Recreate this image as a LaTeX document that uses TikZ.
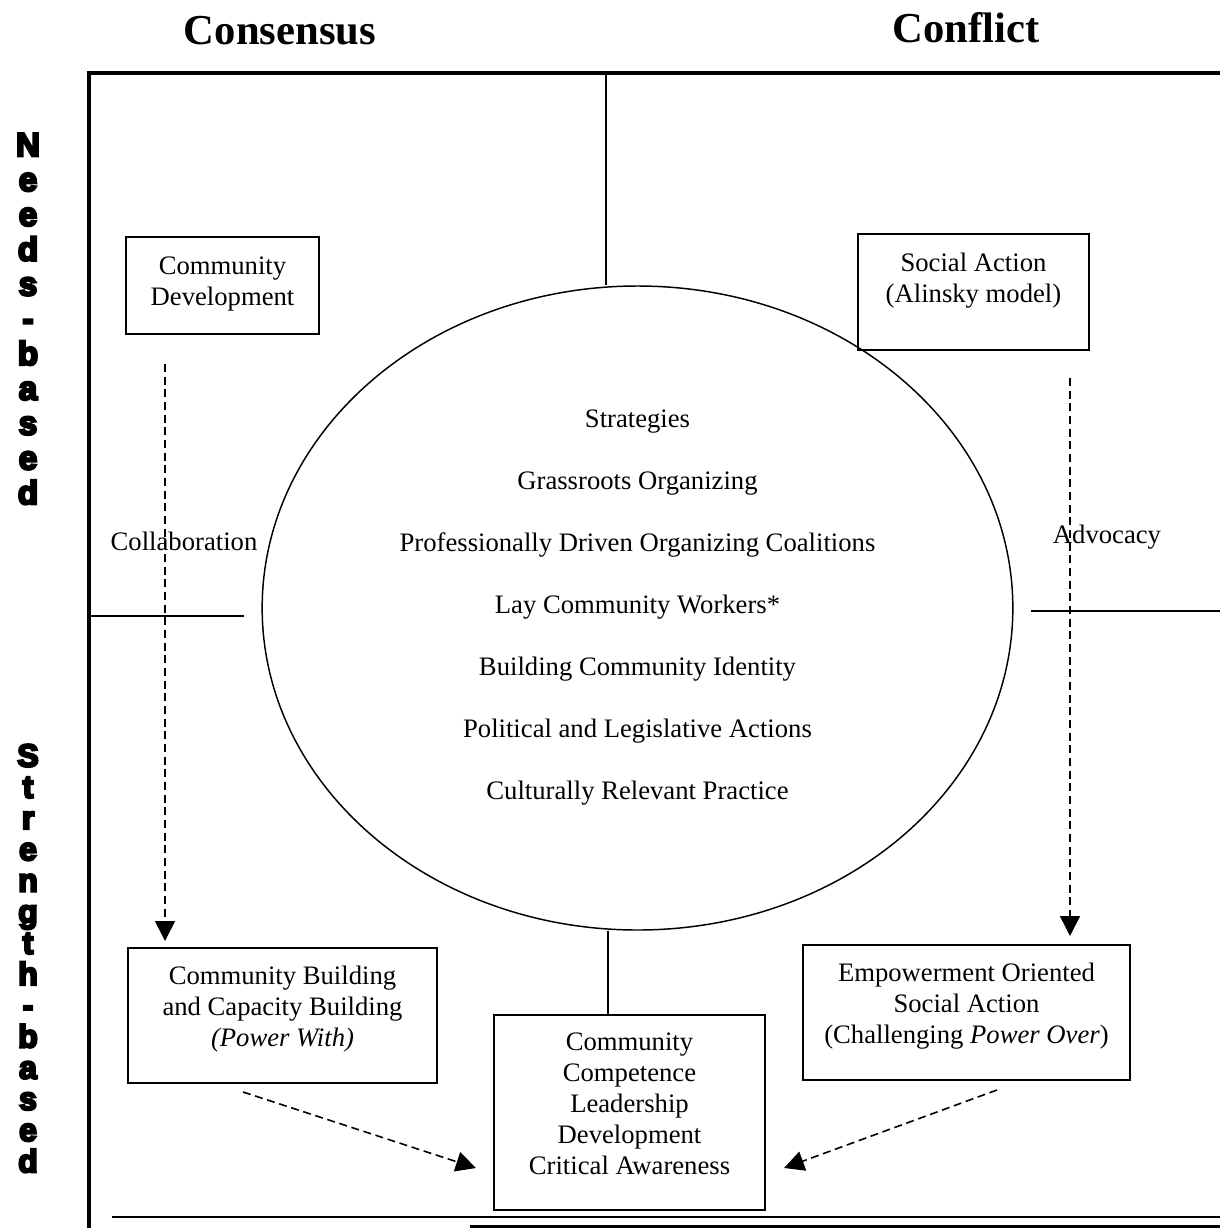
\documentclass[tikz,border=0pt]{standalone}
\usepackage{fontspec}
\setmainfont{Liberation Serif}
\newfontfamily\heavyfont{Liberation Sans Bold}[FakeBold=7]
\usetikzlibrary{shapes.geometric,arrows.meta}

\tikzset{
  frameline/.style={line width=3pt},
  thinline/.style={line width=1.1pt},
  stratbox/.style={draw, line width=1.1pt, rectangle, inner sep=0pt, align=center,
    font=\fontsize{20}{23.3}\selectfont},
  flowarrow/.style={line width=1.2pt, dash pattern=on 6pt off 3.5pt,
    -{Triangle[width=15pt,length=15pt]}},
  heading/.style={font=\fontsize{32}{36}\selectfont\bfseries},
  sidelabel/.style={font=\fontsize{20}{23}\selectfont},
  stack/.style={anchor=north, align=center, inner sep=0pt},
}

\begin{document}
\begin{tikzpicture}[x=0.75pt,y=-0.75pt]
\useasboundingbox (0,0) rectangle (1220,1228);

% column headings
\node[heading] (hcons) at (280,31) {Consensus};
\node[heading] (hconf) at (966,28) {Conflict};

% row headings, stacked letters
\node[stack, font=\heavyfont\fontsize{25}{26.1}\selectfont] (hneeds) at (28,133)
  {N\\e\\e\\d\\s\\-\\b\\a\\s\\e\\d};
\node[stack, font=\heavyfont\fontsize{24}{23.4}\selectfont] (hstrength) at (28,744)
  {S\\t\\r\\e\\n\\g\\t\\h\\-\\b\\a\\s\\e\\d};

% outer frame
\coordinate (fbl) at (89,1228);
\coordinate (ftl) at (89,73);
\coordinate (ftr) at (1220,73);
\draw[frameline] (fbl) -- (ftl) -- (ftr);

% bottom rules
\coordinate (b1l) at (112,1217);
\coordinate (b1r) at (1220,1217);
\coordinate (b2l) at (470,1226.5);
\coordinate (b2r) at (1220,1226.5);
\draw[thinline] (b1l) -- (b1r);
\draw[line width=1.6pt] (b2l) -- (b2r);

% central ellipse with the strategies
\node[draw, ellipse, line width=1.1pt, minimum width=563pt, minimum height=483pt,
  inner sep=0pt, align=center, font=\fontsize{20}{46.5}\selectfont] (ell) at (637.5,608)
  {Strategies\\Grassroots Organizing\\Professionally Driven Organizing Coalitions\\
   Lay Community Workers*\\Building Community Identity\\
   Political and Legislative Actions\\Culturally Relevant Practice};

% quadrant dividers
\coordinate (mll) at (89,616);
\coordinate (mlr) at (244,616);
\coordinate (mrl) at (1031,611);
\coordinate (mrr) at (1220,611);
\draw[thinline] (mll) -- (mlr);
\draw[thinline] (mrl) -- (mrr);
\coordinate (vtop) at (606,73);
\draw[thinline] (vtop) -- (vtop |- ell.north);

% boxes
\node[stratbox, minimum width=144.75pt, minimum height=72.75pt] (cd) at (222.5,285.5)
  {Community\\Development\rule[-7pt]{0pt}{0pt}};
\node[stratbox, minimum width=173.25pt, minimum height=87pt] (sa) at (973.5,292)
  {Social Action\\(Alinsky model)\rule[-22pt]{0pt}{0pt}};
\node[stratbox, minimum width=231.75pt, minimum height=101.25pt] (cb) at (282.5,1015.5)
  {Community Building\\and Capacity Building\\\textit{(Power With)}\rule[-14pt]{0pt}{0pt}};
\node[stratbox, minimum width=245.25pt, minimum height=101.25pt] (eo) at (966.5,1012.5)
  {Empowerment Oriented\\Social Action\\(Challenging \textit{Power Over})\rule[-14pt]{0pt}{0pt}};
\node[stratbox, minimum width=203.25pt, minimum height=146.25pt] (cc) at (629.5,1112.5)
  {Community\\Competence\\Leadership\\Development\\Critical Awareness\rule[-13pt]{0pt}{0pt}};

\coordinate (vbot) at (608,1000);
\draw[thinline] (vbot |- ell.south) -- (vbot |- cc.north);

% flows
\coordinate (al0) at (165,364);
\coordinate (al1) at (165,941);
\coordinate (ar0) at (1070,378);
\coordinate (ar1) at (1070,936);
\coordinate (dl0) at (243,1092);
\coordinate (dl1) at (476,1168);
\coordinate (dr0) at (997,1090);
\coordinate (dr1) at (784,1168);
\draw[flowarrow] (al0) -- (al1);
\draw[flowarrow] (ar0) -- (ar1);
\draw[flowarrow] (dl0) -- (dl1);
\draw[flowarrow] (dr0) -- (dr1);

% flow labels
\node[sidelabel] (lcol) at (184,541) {Collaboration};
\node[sidelabel] (ladv) at (1107,537) {Advocacy};
\end{tikzpicture}
\end{document}
